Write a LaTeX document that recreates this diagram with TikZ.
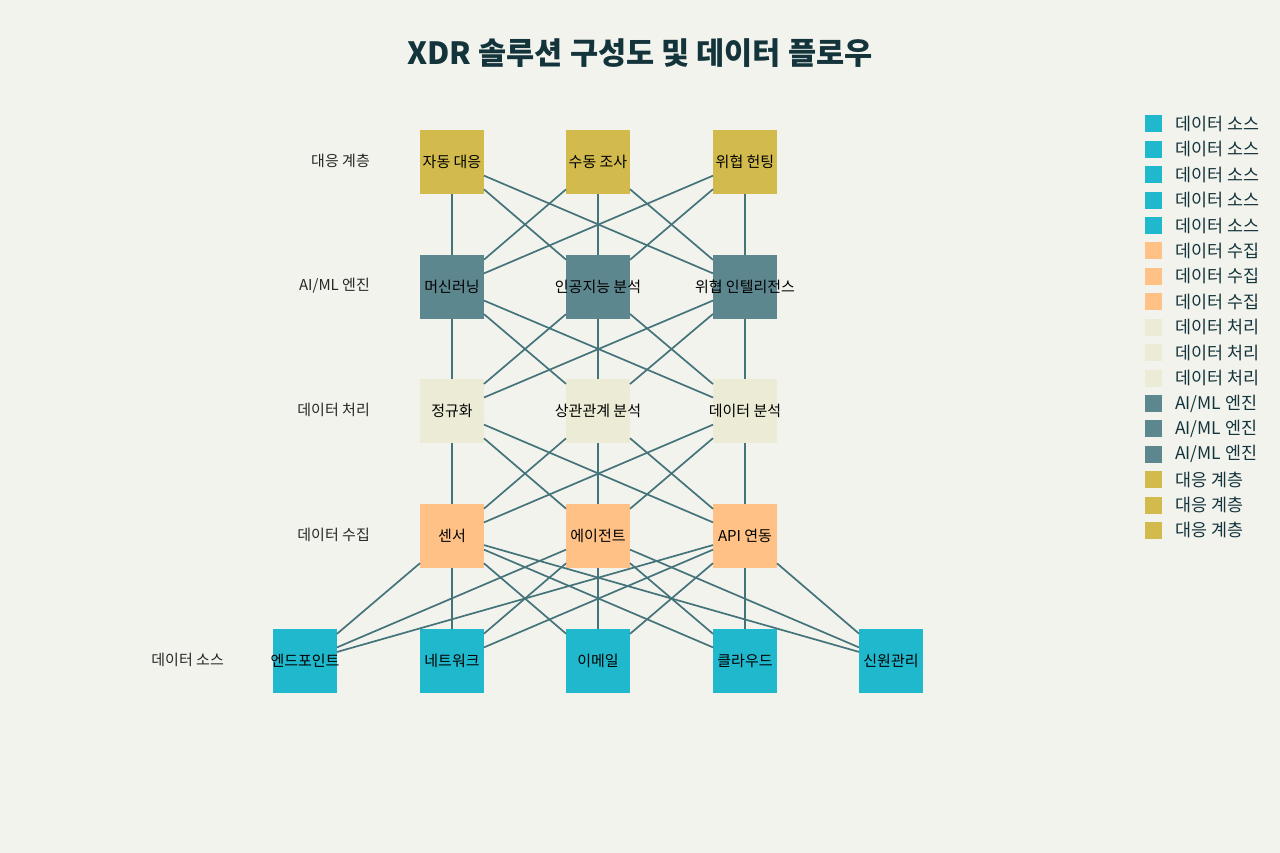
\documentclass[tikz,border=0pt]{standalone}
\usepackage{fontspec}
\setmainfont{Noto Sans CJK KR}
\definecolor{bgcol}{HTML}{F3F3EE}
\definecolor{titlecol}{HTML}{13343B}
\definecolor{srccol}{HTML}{1FB8CD}
\definecolor{colcol}{HTML}{FFC185}
\definecolor{proccol}{HTML}{ECEBD5}
\definecolor{aicol}{HTML}{5D878F}
\definecolor{respcol}{HTML}{D2BA4C}
\definecolor{linkcol}{HTML}{44737A}
\newcommand{\boxfont}{\fontsize{15}{18}\selectfont}

\tikzset{
  box/.style={minimum size=64pt, inner sep=0pt, outer sep=0pt},
  srcbox/.style={box, fill=srccol},
  colbox/.style={box, fill=colcol},
  procbox/.style={box, fill=proccol},
  aibox/.style={box, fill=aicol},
  respbox/.style={box, fill=respcol},
  every label/.style={font=\boxfont, text=black, inner sep=0pt},
  link/.style={draw=linkcol, line width=1.7pt},
  layertag/.style={anchor=east, inner sep=0pt, font=\boxfont, text=black!85},
  keybox/.style={minimum size=17pt, inner sep=0pt},
  keytext/.style={anchor=west, inner sep=0pt, font=\fontsize{17.4}{20}\selectfont, text=titlecol}
}

\begin{document}
\begin{tikzpicture}[x=1pt, y=-1pt]
  \useasboundingbox (0,0) rectangle (1280,853);
  \fill[bgcol] (0,0) rectangle (1280,853);
  \node[font=\fontsize{30.6}{36}\selectfont\bfseries, text=titlecol] (title) at (640,53) {XDR 솔루션 구성도 및 데이터 플로우};

  % layer labels
  \node[layertag] (tagresp) at (370,161) {대응 계층};
  \node[layertag] (tagai) at (370,286) {AI/ML 엔진};
  \node[layertag] (tagproc) at (370,410) {데이터 처리};
  \node[layertag] (tagcol) at (370,535) {데이터 수집};
  \node[layertag] (tagsrc) at (224,660) {데이터 소스};

  % response layer
  \node[respbox, label=center:자동 대응] (auto) at (452,162) {};
  \node[respbox, label=center:수동 조사] (manual) at (598,162) {};
  \node[respbox, label=center:위협 헌팅] (hunt) at (745,162) {};

  % AI/ML layer
  \node[aibox, label=center:머신러닝] (ml) at (452,287) {};
  \node[aibox, label=center:인공지능 분석] (aia) at (598,287) {};
  \node[aibox, label=center:위협 인텔리전스] (intel) at (745,287) {};

  % processing layer
  \node[procbox, label=center:정규화] (norm) at (452,411) {};
  \node[procbox, label=center:상관관계 분석] (corr) at (598,411) {};
  \node[procbox, label=center:데이터 분석] (anal) at (745,411) {};

  % collection layer
  \node[colbox, label=center:센서] (sensor) at (452,536) {};
  \node[colbox, label=center:에이전트] (agent) at (598,536) {};
  \node[colbox, label=center:API 연동] (api) at (745,536) {};

  % source layer
  \node[srcbox, label=center:엔드포인트] (endp) at (305,661) {};
  \node[srcbox, label=center:네트워크] (net) at (452,661) {};
  \node[srcbox, label=center:이메일] (mail) at (598,661) {};
  \node[srcbox, label=center:클라우드] (cloud) at (745,661) {};
  \node[srcbox, label=center:신원관리] (ident) at (891,661) {};

  % connections
  \foreach \a in {auto,manual,hunt}
    \foreach \b in {ml,aia,intel}
      \draw[link] (\a) -- (\b);
  \foreach \a in {ml,aia,intel}
    \foreach \b in {norm,corr,anal}
      \draw[link] (\a) -- (\b);
  \foreach \a in {norm,corr,anal}
    \foreach \b in {sensor,agent,api}
      \draw[link] (\a) -- (\b);
  \foreach \a in {sensor,agent,api}
    \foreach \b in {endp,net,mail,cloud,ident}
      \draw[link] (\a) -- (\b);

  % legend
  \foreach \i/\c/\t in {0/srccol/데이터 소스, 1/srccol/데이터 소스, 2/srccol/데이터 소스,
      3/srccol/데이터 소스, 4/srccol/데이터 소스, 5/colcol/데이터 수집, 6/colcol/데이터 수집,
      7/colcol/데이터 수집, 8/proccol/데이터 처리, 9/proccol/데이터 처리, 10/proccol/데이터 처리,
      11/aicol/{AI/ML 엔진}, 12/aicol/{AI/ML 엔진}, 13/aicol/{AI/ML 엔진},
      14/respcol/대응 계층, 15/respcol/대응 계층, 16/respcol/대응 계층} {
    \node[keybox, fill=\c] (key\i) at (1153,124+25.4*\i) {};
    \node[keytext] (keytext\i) at (1175,124+25.4*\i) {\t};
  }
\end{tikzpicture}
\end{document}
